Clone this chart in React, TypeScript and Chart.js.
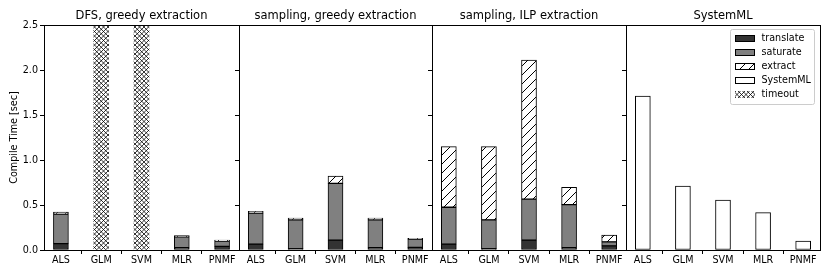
import React, { useEffect, useRef } from 'react';
import { Chart, registerables } from 'chart.js';

Chart.register(...registerables);

const categories = ['ALS', 'GLM', 'SVM', 'MLR', 'PNMF'];
const panelTitles = ['DFS, greedy extraction', 'sampling, greedy extraction', 'sampling, ILP extraction', 'SystemML'];
const yTicks = [0, 0.5, 1.0, 1.5, 2.0, 2.5];
const legendLabels = ['translate', 'saturate', 'extract', 'SystemML', 'timeout'];

// DFS, greedy extraction
const dfsTranslate = [0.07, null, null, 0.025, 0.04];
const dfsSaturate = [0.33, null, null, 0.12, 0.06];
const dfsExtract = [0.02, null, null, 0.015, 0.01];
const dfsTimeout = [null, 2.5, 2.5, null, null];
// sampling, greedy extraction
const sgTranslate = [0.065, 0.015, 0.11, 0.025, 0.03];
const sgSaturate = [0.345, 0.32, 0.63, 0.31, 0.09];
const sgExtract = [0.02, 0.02, 0.08, 0.02, 0.01];
// sampling, ILP extraction
const siTranslate = [0.065, 0.015, 0.11, 0.025, 0.045];
const siSaturate = [0.41, 0.32, 0.455, 0.48, 0.045];
const siExtract = [0.673, 0.813, 1.545, 0.19, 0.075];
// SystemML
const systemML = [1.71, 0.71, 0.555, 0.415, 0.10];

const FONT = '"DejaVu Sans", sans-serif';
const SMALL = 9.6;
const TITLE = 11.5;
const C_TRANSLATE = '#333333';
const C_SATURATE = '#808080';

function makePattern(kind: 'diag' | 'cross'): CanvasPattern {
  const size = 9;
  const c = document.createElement('canvas');
  c.width = size;
  c.height = size;
  const g = c.getContext('2d')!;
  g.fillStyle = '#ffffff';
  g.fillRect(0, 0, size, size);
  g.strokeStyle = '#000000';
  g.lineWidth = kind === 'diag' ? 1 : 0.8;
  g.beginPath();
  const offs = kind === 'diag' ? [0] : [0, 4.5];
  for (const o of offs) {
    for (const k of [-size, 0, size]) {
      g.moveTo(k + o, size);
      g.lineTo(k + o + size, 0);
      if (kind === 'cross') {
        g.moveTo(k + o, 0);
        g.lineTo(k + o + size, size);
      }
    }
  }
  g.stroke();
  return g.createPattern(c, 'repeat')!;
}

const panelGeom = [
  { left: 44, right: 239, yw: 44 },
  { left: 239, right: 432, yw: 6 },
  { left: 432, right: 626, yw: 6 },
  { left: 626, right: 820, yw: 6 },
];
const PAD_R = 2;
const H = 277;

export default function App() {
  const refs = [useRef<HTMLCanvasElement>(null), useRef<HTMLCanvasElement>(null), useRef<HTMLCanvasElement>(null), useRef<HTMLCanvasElement>(null)];

  useEffect(() => {
    const diag = makePattern('diag');
    const cross = makePattern('cross');
    const toData = (vals: (number | null)[]) => vals.map((v, i) => ({ x: i, y: v }));
    const seg = (label: string, vals: (number | null)[], bg: any, bw = 1) => ({
      label,
      data: toData(vals),
      backgroundColor: bg,
      borderColor: '#000000',
      borderWidth: bw,
      borderSkipped: false,
      barThickness: 15,
      stack: 's',
    });
    const panelSets = [
      [
        seg('translate', dfsTranslate, C_TRANSLATE),
        seg('saturate', dfsSaturate, C_SATURATE),
        seg('extract', dfsExtract, diag),
        seg('timeout', dfsTimeout, cross, 0),
      ],
      [seg('translate', sgTranslate, C_TRANSLATE), seg('saturate', sgSaturate, C_SATURATE), seg('extract', sgExtract, diag)],
      [seg('translate', siTranslate, C_TRANSLATE), seg('saturate', siSaturate, C_SATURATE), seg('extract', siExtract, diag)],
      [seg('SystemML', systemML, '#ffffff')],
    ];

    const charts: Chart[] = [];
    panelGeom.forEach((geo, idx) => {
      const canvas = refs[idx].current!;
      const framePlugin = {
        id: 'frame' + idx,
        afterDatasetsDraw(chart: any) {
          const ctx = chart.ctx as CanvasRenderingContext2D;
          const ca = chart.chartArea;
          ctx.save();
          ctx.strokeStyle = '#000000';
          ctx.lineWidth = 1;
          ctx.strokeRect(ca.left + 0.5, ca.top + 0.5, ca.right - ca.left, ca.bottom - ca.top);
          ctx.fillStyle = '#000000';
          ctx.font = TITLE + 'px ' + FONT;
          ctx.textAlign = 'center';
          ctx.textBaseline = 'alphabetic';
          ctx.fillText(panelTitles[idx], (ca.left + ca.right) / 2, 19);
          if (idx === 3) {
            const bw = 84;
            const bh = 75;
            const bx = ca.right - 6 - bw + 0.5;
            const by = ca.top + 4 + 0.5;
            ctx.beginPath();
            (ctx as any).roundRect(bx, by, bw, bh, 2);
            ctx.fillStyle = 'rgba(255,255,255,0.8)';
            ctx.fill();
            ctx.strokeStyle = '#cccccc';
            ctx.stroke();
            const fills: any[] = [C_TRANSLATE, C_SATURATE, diag, '#ffffff', cross];
            legendLabels.forEach((lab, i) => {
              const cy = by + 9.3 + i * 14;
              const sx = Math.round(bx + 4);
              const sy = Math.round(cy - 3.5);
              ctx.fillStyle = fills[i];
              ctx.fillRect(sx, sy, 20, 7);
              if (i < 4) {
                ctx.strokeStyle = '#000000';
                ctx.lineWidth = 1;
                ctx.strokeRect(sx + 0.5, sy + 0.5, 19, 6);
              }
              ctx.fillStyle = '#000000';
              ctx.font = SMALL + 'px ' + FONT;
              ctx.textAlign = 'left';
              ctx.textBaseline = 'middle';
              ctx.fillText(lab, bx + 31, cy);
            });
          }
          ctx.restore();
        },
      };
      const chart = new Chart(canvas, {
        type: 'bar',
        data: { datasets: panelSets[idx] as any },
        plugins: [framePlugin],
        options: {
          responsive: false,
          animation: false,
          devicePixelRatio: 1,
          layout: { padding: { top: 25, right: PAD_R, bottom: 0, left: 0 } },
          plugins: { legend: { display: false }, tooltip: { enabled: false }, title: { display: false } },
          scales: {
            x: {
              type: 'linear',
              stacked: true,
              offset: false,
              min: -0.42,
              max: 4.42,
              afterBuildTicks: (s: any) => {
                s.ticks = categories.map((_, i) => ({ value: i }));
              },
              afterFit: (s: any) => {
                s.height = 27;
              },
              ticks: {
                callback: (_v: any, i: number) => categories[i] ?? '',
                font: { family: FONT, size: SMALL },
                color: '#000000',
                padding: 1,
                maxRotation: 0,
                autoSkip: false,
              },
              grid: { display: true, drawOnChartArea: false, drawTicks: true, tickLength: 4, color: '#000000', lineWidth: 1 },
              border: { display: false },
            },
            y: {
              stacked: true,
              min: 0,
              max: 2.5,
              afterBuildTicks: (s: any) => {
                s.ticks = yTicks.map((v) => ({ value: v }));
              },
              afterFit: (s: any) => {
                s.width = geo.yw;
              },
              ticks: {
                display: idx === 0,
                callback: (v: any) => Number(v).toFixed(1),
                font: { family: FONT, size: SMALL },
                color: '#000000',
                padding: 2,
              },
              grid: { display: true, drawOnChartArea: false, drawTicks: true, tickLength: 4, color: '#000000', lineWidth: 1 },
              border: { display: false },
              title: {
                display: idx === 0,
                text: 'Compile Time [sec]',
                font: { family: FONT, size: SMALL },
                color: '#000000',
                padding: { top: 9, bottom: 0 },
              },
            },
          },
        } as any,
      });
      charts.push(chart);
    });
    return () => charts.forEach((c) => c.destroy());
  }, []);

  return (
    <div style={{ position: 'absolute', left: 0, top: 0, width: 830, height: H, background: '#ffffff' }}>
      {panelGeom.map((geo, idx) => {
        const cl = geo.left - geo.yw;
        const w = geo.right - cl + PAD_R;
        return (
          <canvas
            key={idx}
            ref={refs[idx]}
            width={w}
            height={H}
            style={{ position: 'absolute', left: cl, top: 0, width: w, height: H }}
          />
        );
      })}
    </div>
  );
}
